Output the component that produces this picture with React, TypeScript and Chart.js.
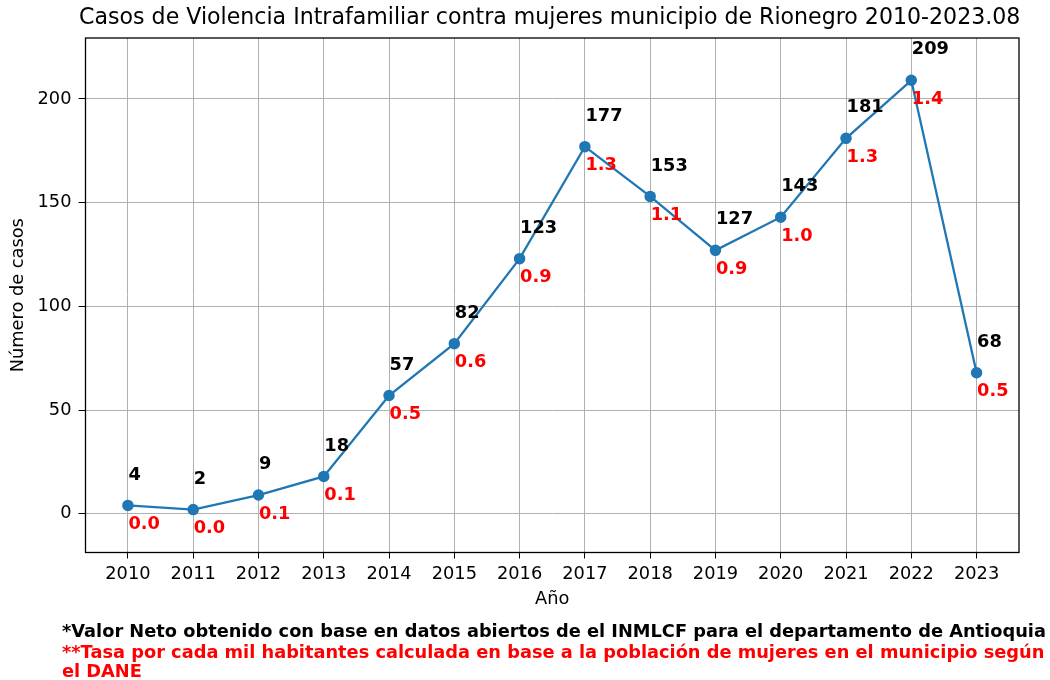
import React, { useEffect, useRef } from "react";
import { Chart, registerables } from "chart.js";

Chart.register(...registerables);

const years = [2010, 2011, 2012, 2013, 2014, 2015, 2016, 2017, 2018, 2019, 2020, 2021, 2022, 2023];
const cases = [4, 2, 9, 18, 57, 82, 123, 177, 153, 127, 143, 181, 209, 68];
const rates = ["0.0", "0.0", "0.1", "0.1", "0.5", "0.6", "0.9", "1.3", "1.1", "0.9", "1.0", "1.3", "1.4", "0.5"];
const yTicks = [0, 50, 100, 150, 200];

const titleText = "Casos de Violencia Intrafamiliar contra mujeres municipio de Rionegro 2010-2023.08";
const yLabel = "Número de casos";
const xLabel = "Año";
const notes = [
  { text: "*Valor Neto obtenido con base en datos abiertos de el INMLCF para el departamento de Antioquia", color: "#000000" },
  { text: "**Tasa por cada mil habitantes calculada en base a la población de mujeres en el municipio según", color: "#ff0000" },
  { text: "el DANE", color: "#ff0000" },
];

const FONT = '"DejaVu Sans", sans-serif';
const BLUE = "#1f77b4";
const FS = 17.8;

export default function App() {
  const ref = useRef<HTMLCanvasElement | null>(null);

  useEffect(() => {
    const canvas = ref.current;
    if (!canvas) return;

    const textPlugin = {
      id: "textPlugin",
      afterDatasetsDraw(chart: any) {
        const ctx = chart.ctx;
        const xs = chart.scales.x;
        const ys = chart.scales.y;
        ctx.save();
        ctx.textAlign = "left";
        ctx.textBaseline = "middle";
        ctx.font = `bold ${FS}px ${FONT}`;
        years.forEach((yr, i) => {
          const px = xs.getPixelForValue(yr);
          const py = ys.getPixelForValue(cases[i]);
          ctx.fillStyle = "#000000";
          ctx.fillText(String(cases[i]), px + 0.5, py - 30.5);
          ctx.fillStyle = "#ff0000";
          ctx.fillText(rates[i], px + 0.5, py + 19);
        });
        ctx.restore();
      },
      afterDraw(chart: any) {
        const ctx = chart.ctx;
        const a = chart.chartArea;
        ctx.save();
        ctx.strokeStyle = "#000000";
        ctx.lineWidth = 1.3;
        ctx.strokeRect(a.left, a.top, a.right - a.left, a.bottom - a.top);

        const cx = (a.left + a.right) / 2;
        ctx.fillStyle = "#000000";
        ctx.textAlign = "center";
        ctx.textBaseline = "middle";
        ctx.font = `22.1px ${FONT}`;
        ctx.fillText(titleText, cx - 2.5, 18);

        ctx.font = `${FS}px ${FONT}`;
        ctx.fillText(xLabel, cx, 599);

        ctx.save();
        ctx.translate(18, (a.top + a.bottom) / 2);
        ctx.rotate(-Math.PI / 2);
        ctx.fillText(yLabel, 0, 0);
        ctx.restore();

        ctx.textAlign = "left";
        ctx.font = `bold ${FS}px ${FONT}`;
        const lineY = [632, 653, 672];
        notes.forEach((n, i) => {
          ctx.fillStyle = n.color;
          ctx.fillText(n.text, 62, lineY[i]);
        });
        ctx.restore();
      },
    };

    const chart = new Chart(canvas, {
      type: "line",
      data: {
        datasets: [
          {
            data: years.map((y, i) => ({ x: y, y: cases[i] })),
            borderColor: BLUE,
            backgroundColor: BLUE,
            borderWidth: 2.3,
            pointRadius: 5,
            pointBorderWidth: 1.5,
            pointBackgroundColor: BLUE,
            pointBorderColor: BLUE,
            tension: 0,
          },
        ],
      },
      options: {
        animation: false,
        responsive: false,
        maintainAspectRatio: false,
        layout: { padding: { left: 0, top: 38, right: 31, bottom: 0 } },
        plugins: {
          legend: { display: false },
          title: { display: false },
          tooltip: { enabled: false },
        },
        scales: {
          x: {
            type: "linear",
            min: 2009.35,
            max: 2023.65,
            afterBuildTicks: (s: any) => {
              s.ticks = years.map((v) => ({ value: v }));
            },
            afterFit: (s: any) => {
              s.height = 680 - 552.5;
            },
            ticks: {
              color: "#000000",
              font: { family: FONT, size: FS },
              padding: 5,
              maxRotation: 0,
              autoSkip: false,
              callback: (v: any) => String(v),
            },
            grid: { color: "#b0b0b0", lineWidth: 1, tickColor: "#000000", tickLength: 6 },
            border: { display: false },
          },
          y: {
            type: "linear",
            min: -18.7,
            max: 229.4,
            afterBuildTicks: (s: any) => {
              s.ticks = yTicks.map((v) => ({ value: v }));
            },
            afterFit: (s: any) => {
              s.width = 85.5;
            },
            ticks: {
              color: "#000000",
              font: { family: FONT, size: FS },
              padding: 7,
              callback: (v: any) => String(v),
            },
            grid: { color: "#b0b0b0", lineWidth: 1, tickColor: "#000000", tickLength: 7 },
            border: { display: false },
          },
        },
      },
      plugins: [textPlugin],
    });

    return () => chart.destroy();
  }, []);

  return (
    <div style={{ position: "fixed", left: 0, top: 0, width: 1050, height: 680, background: "#ffffff" }}>
      <canvas ref={ref} width={1050} height={680} style={{ width: 1050, height: 680, display: "block" }} />
    </div>
  );
}
